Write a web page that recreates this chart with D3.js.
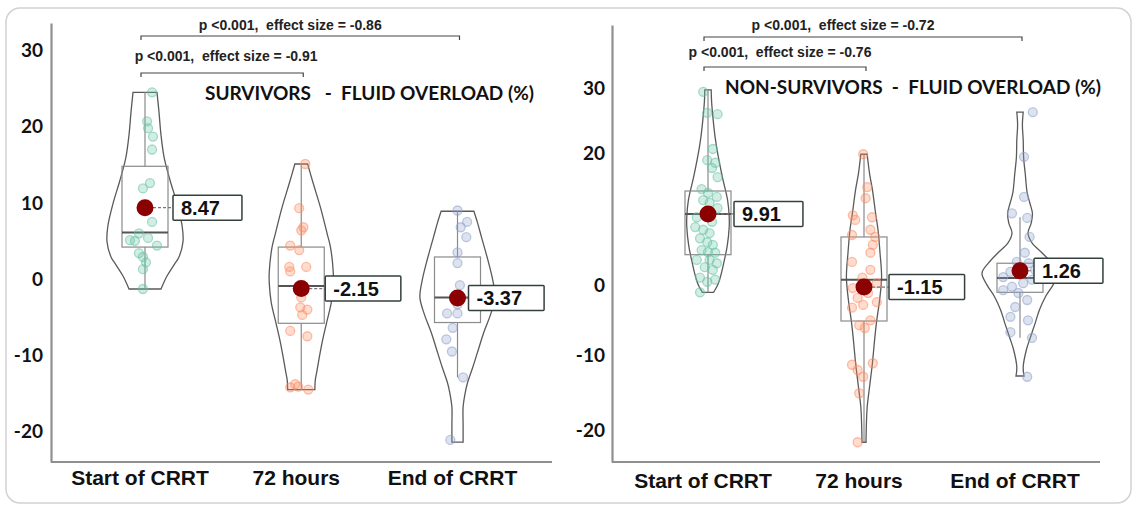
<!DOCTYPE html>
<html>
<head>
<meta charset="utf-8">
<script src="https://cdn.jsdelivr.net/npm/d3@7"></script>
<style>
  body { margin: 0; background: #fff; }
  svg { display: block; }
</style>
</head>
<body>
<script>
// ---- data ----
const categories = ["Start of CRRT", "72 hours", "End of CRRT"];

const survivorsTitle = "SURVIVORS   -  FLUID OVERLOAD (%)";
const nonSurvivorsTitle = "NON-SURVIVORS  -  FLUID OVERLOAD (%)";

const survivorsTicks = [-20, -10, 0, 10, 20, 30];
const nonSurvivorsTicks = [-20, -10, 0, 20, 30];

// means shown in the labelled red dots
const survivorsMeans = [8.47, -2.15, -3.37];
const nonSurvivorsMeans = [9.91, -1.15, 1.26];

// box plot: [low whisker, q1, median, q3, high whisker]
const survivorsBox = [
  [-2.2, 3.3, 5.2, 13.9, 23.6],
  [-15.4, -6.7, -1.8, 3.3, 14.2],
  [-13.8, -6.6, -3.3, 2.0, 8.0]
];
const nonSurvivorsBox = [
  [-1.9, 3.7, 9.9, 13.4, 28.8],
  [-22.4, -6.0, -0.1, 6.4, 19.0],
  [-8.4, -1.9, 0.15, 2.4, 9.4]
];

// violin outlines: [value, relative density]
const survivorsViolin = [
  [[23.6,.30],[21,.35],[18,.40],[15,.48],[12,.63],[9,.80],[6,.93],[4,.95],[2,.85],[1,.73],[-0.5,.55],[-2.2,.40]],
  [[14.2,.16],[12,.28],[8.5,.48],[5,.65],[3.3,.73],[0,.80],[-1.4,.80],[-4,.75],[-6.7,.63],[-9,.53],[-11.2,.45],[-13,.39],[-14.2,.35],[-15.4,.34]],
  [[8,.41],[6.5,.50],[4.6,.60],[1.2,.78],[-1,.88],[-3.3,.94],[-5.5,.83],[-8,.65],[-10,.53],[-12.5,.38],[-14.5,.25],[-15.9,.19],[-17.7,.14],[-20,.14],[-22.3,.14]]
];
const nonSurvivorsViolin = [
  [[28.8,.08],[27,.09],[24.2,.13],[21.5,.18],[19.2,.24],[15.5,.36],[12,.49],[9.5,.53],[7.9,.53],[5,.48],[2.9,.41],[1,.34],[-0.1,.29],[-1,.23],[-1.9,.14]],
  [[19,.08],[16,.14],[13.6,.21],[10,.29],[7.5,.35],[4,.40],[0.3,.44],[-3,.39],[-6.3,.31],[-9,.26],[-11.9,.21],[-15,.14],[-17.7,.08],[-20,.06],[-22.4,.05]],
  [[25.4,.08],[23.5,.06],[21.2,.08],[18.5,.09],[16.1,.13],[13.1,.18],[11.5,.25],[10,.31],[8.5,.28],[7,.20],[5.5,.30],[4,.55],[2.5,.78],[0.9,.95],[-0.8,.83],[-2.6,.63],[-4.5,.48],[-6.3,.38],[-8.5,.25],[-10.1,.16],[-12.4,.08],[-13.6,.10]]
];

// individual patients: [value, jitter (-1..1)]
const survivorsPoints = [
  [[23.6,.44],[19.8,.13],[18.9,.19],[17.8,.5],[16.1,.44],[11.7,.31],[11.0,-.13],[6.6,.44],[5.1,-.38],[4.1,-.63],[4.5,.19],[3.5,.75],[2.5,-.38],[2.0,-.13],[0.4,-.13],[-2.2,-.13],[4.2,-.94],[1.3,.06]],
  [[14.2,.25],[8.4,-.13],[5.9,.13],[5.5,0],[3.5,-.69],[2.9,-.13],[0.7,-.75],[0.1,-.69],[0.7,.31],[-2.2,0],[-3.3,0],[-4.6,-.06],[-4.9,.38],[-5.6,.06],[-7.7,-.69],[-8.4,.38],[-15.1,-.69],[-14.7,-.38],[-15.0,-.19],[-15.4,.44]],
  [[8.1,0],[6.6,.6],[5.9,.2],[4.6,.55],[2.6,0],[1.2,0],[-1.7,.15],[-3.4,.15],[-4.2,0],[-5.4,-.65],[-5.4,0],[-7.3,-.3],[-8.8,-.7],[-10.4,-.35],[-13.8,.35],[-22.0,-.45]]
];
const nonSurvivorsPoints = [
  [[28.5,-.3],[25.3,-.05],[25.1,.6],[19.8,.3],[18.1,-.05],[17.7,.45],[16.9,.25],[15.5,.6],[13.7,-.4],[13.1,0],[12.5,.55],[12.0,-.3],[11.6,.1],[10.8,.6],[9.4,-.7],[8.7,.25],[7.9,-.8],[7.5,-.3],[7.0,.1],[6.2,-.5],[5.6,-.05],[5.2,.3],[4.4,-.4],[4.1,0],[4.0,.45],[2.9,-.7],[2.9,.1],[2.4,.55],[1.8,-.2],[1.4,.3],[0.2,-.5],[-0.1,.45],[-0.4,-.05],[-1.9,-.5]],
  [[19.0,-.05],[14.0,.2],[12.3,.1],[9.7,-.7],[9.0,-.55],[9.4,.5],[7.5,.4],[6.4,.7],[6.7,-.75],[5.2,.55],[4.0,.4],[2.6,-.75],[1.4,.4],[0.2,-.1],[-0.6,.8],[-1.3,-.7],[-2.0,.25],[-2.7,-.4],[-3.7,-.05],[-4.1,-.75],[-3.3,.8],[-5.9,.4],[-6.6,-.3],[-7.0,.05],[-12.1,-.75],[-11.9,.55],[-12.8,-.4],[-13.7,-.05],[-15.9,-.3],[-22.4,-.4]],
  [[25.4,.8],[18.6,.25],[12.5,.25],[10.0,-.5],[9.3,.45],[6.4,.6],[4.0,.3],[2.6,-.2],[2.4,.55],[1.1,-.6],[1.4,.95],[0.3,-1.05],[-0.6,.2],[-0.1,.75],[-1.1,-.5],[-1.6,-1.05],[-2.0,-.1],[-3.0,.45],[-4.0,-.3],[-5.4,-.6],[-5.9,.5],[-7.6,-.6],[-8.4,.75],[-13.7,.45]]
];

// pairwise tests: [from category, to category, text]
const survivorsTests = [
  [0, 2, "p <0.001,  effect size = -0.86"],
  [0, 1, "p <0.001,  effect size = -0.91"]
];
const nonSurvivorsTests = [
  [0, 2, "p <0.001,  effect size = -0.72"],
  [0, 1, "p <0.001,  effect size = -0.76"]
];

// ---- styling / layout ----
const pointColors = ["#66c2a5", "#fc8d62", "#8da0cb"];
const W = 1137, H = 507;

const svg = d3.select("body").append("svg")
  .attr("width", W)
  .attr("height", H);

// outer rounded frame
svg.append("rect")
  .attr("x", 6).attr("y", 8)
  .attr("width", 1125).attr("height", 495)
  .attr("rx", 14)
  .attr("fill", "none")
  .attr("stroke", "#d2d2d2")
  .attr("stroke-width", 1.5);

const widthScale = d3.scaleLinear().domain([0, 1]).range([0, 40]);
const jitterScale = d3.scaleLinear().domain([-1, 1]).range([-16, 16]);

function drawPanel(cfg) {
  const x = d3.scalePoint().domain(d3.range(categories.length)).range(cfg.xRange);
  const y = d3.scaleLinear().domain(cfg.yDomain).range(cfg.yRange);
  const g = svg.append("g");

  // y axis (line + labels, no tick marks)
  const yAxis = g.append("g")
    .attr("transform", `translate(${cfg.axisX},0)`)
    .call(d3.axisLeft(y).tickValues(cfg.ticks).tickSize(0).tickPadding(cfg.tickPad).tickFormat(d => String(d)));
  yAxis.select(".domain").attr("stroke", "#8f8f8f").attr("stroke-width", 2.2);
  yAxis.selectAll("text")
    .attr("y", cfg.tickShift)
    .style("font-family", "Lato, 'Open Sans', sans-serif")
    .style("font-weight", "bold")
    .style("font-size", "19px")
    .attr("fill", "#111");

  // x axis line
  g.append("line")
    .attr("x1", cfg.axisX).attr("x2", cfg.axisEnd)
    .attr("y1", y.range()[0]).attr("y2", y.range()[0])
    .attr("stroke", "#8f8f8f").attr("stroke-width", 2.2);

  // category labels
  g.selectAll(".cat").data(categories).join("text")
    .attr("x", (d, i) => x(i) - 5)
    .attr("y", cfg.catY)
    .attr("text-anchor", "middle")
    .style("font-family", "'Liberation Sans', Arial, sans-serif")
    .style("font-weight", "bold")
    .style("font-size", "21px")
    .attr("fill", "#111")
    .text(d => d);

  // title
  g.append("text")
    .attr("x", cfg.titleX).attr("y", cfg.titleY)
    .style("white-space", "pre")
    .style("font-family", "Lato, 'Open Sans', sans-serif")
    .style("font-weight", "bold")
    .style("font-size", "19px")
    .attr("fill", "#111")
    .text(cfg.title);

  // significance brackets
  cfg.tests.forEach((t, k) => {
    const x0 = x(t[0]) - 4, x1 = x(t[1]) + 2, by = cfg.bracketY[k];
    g.append("path")
      .attr("d", `M${x0},${by + 4}V${by}H${x1}V${by + 4}`)
      .attr("fill", "none")
      .attr("stroke", "#444")
      .attr("stroke-width", 1.2);
    g.append("text")
      .attr("x", (x0 + x1) / 2 + cfg.testDx[k])
      .attr("y", cfg.testY[k])
      .attr("text-anchor", "middle")
      .style("white-space", "pre")
      .style("font-family", "'Liberation Sans', Arial, sans-serif")
      .style("font-weight", "bold")
      .style("font-size", "14px")
      .attr("fill", "#222")
      .text(t[2]);
  });

  const area = d3.area()
    .curve(d3.curveCatmullRom)
    .y(d => y(d[0]));

  categories.forEach((c, i) => {
    const cx = x(i);
    const box = cfg.box[i];

    // violin
    g.append("path")
      .datum(cfg.violin[i])
      .attr("d", area.x0(d => cx - widthScale(d[1])).x1(d => cx + widthScale(d[1])))
      .attr("fill", "none")
      .attr("stroke", "#5a5a5a")
      .attr("stroke-width", 1.3);

    // whiskers
    g.append("line")
      .attr("x1", cx).attr("x2", cx)
      .attr("y1", y(box[0])).attr("y2", y(box[1]))
      .attr("stroke", "#8a8a8a").attr("stroke-width", 1.2);
    g.append("line")
      .attr("x1", cx).attr("x2", cx)
      .attr("y1", y(box[3])).attr("y2", y(box[4]))
      .attr("stroke", "#8a8a8a").attr("stroke-width", 1.2);

    // box
    g.append("rect")
      .attr("x", cx - 23).attr("width", 46)
      .attr("y", y(box[3])).attr("height", y(box[1]) - y(box[3]))
      .attr("fill", "none")
      .attr("stroke", "#8a8a8a").attr("stroke-width", 1.2);
    g.append("line")
      .attr("x1", cx - 23).attr("x2", cx + 23)
      .attr("y1", y(box[2])).attr("y2", y(box[2]))
      .attr("stroke", "#555").attr("stroke-width", 2);

    // points
    g.selectAll(null).data(cfg.points[i]).join("circle")
      .attr("cx", d => cx + jitterScale(d[1]))
      .attr("cy", d => y(d[0]))
      .attr("r", 4.5)
      .attr("fill", pointColors[i])
      .attr("fill-opacity", 0.3)
      .attr("stroke", pointColors[i])
      .attr("stroke-opacity", 0.55)
      .attr("stroke-width", 1.3);

    // mean dot + label
    const m = cfg.means[i];
    const my = y(m);
    const lx = cx + cfg.labelDx[i];
    g.append("line")
      .attr("x1", cx + 8).attr("x2", lx)
      .attr("y1", my).attr("y2", my)
      .attr("stroke", "#777").attr("stroke-width", 1.2)
      .attr("stroke-dasharray", "3,2");
    g.append("circle")
      .attr("cx", cx).attr("cy", my).attr("r", 8.5)
      .attr("fill", "#8b0000");

    const lbl = g.append("g");
    const rect = lbl.append("rect")
      .attr("fill", "#fff")
      .attr("stroke", "#33403f")
      .attr("stroke-width", 1.5)
      .attr("rx", 1);
    const txt = lbl.append("text")
      .attr("x", lx + 8)
      .attr("y", my + 7)
      .style("font-family", "'Liberation Sans', Arial, sans-serif")
      .style("font-weight", "bold")
      .style("font-size", "20px")
      .attr("fill", "#111")
      .text(m.toFixed(2));
    const tw = txt.node().getComputedTextLength();
    rect.attr("x", lx).attr("y", my - 12.5)
      .attr("width", tw + 30).attr("height", 25);
  });
}

drawPanel({
  title: survivorsTitle, titleX: 205, titleY: 100,
  xRange: [145, 457.5], axisX: 51, axisEnd: 552,
  yDomain: [-24.9, 32.7], yRange: [462, 23],
  ticks: survivorsTicks, tickPad: 8, tickShift: 7, catY: 485,
  box: survivorsBox, violin: survivorsViolin, points: survivorsPoints, means: survivorsMeans,
  labelDx: [28, 24, 11],
  tests: survivorsTests, bracketY: [36, 73], testY: [30, 61], testDx: [-10, 4]
});

drawPanel({
  title: nonSurvivorsTitle, titleX: 725, titleY: 94,
  xRange: [708, 1020], axisX: 612, axisEnd: 1100,
  yDomain: [-25, -20, -10, 0, 30, 38.7], yRange: [462, 424, 349, 279, 82, 25],
  ticks: nonSurvivorsTicks, tickPad: 7, tickShift: 6, catY: 488,
  box: nonSurvivorsBox, violin: nonSurvivorsViolin, points: nonSurvivorsPoints, means: nonSurvivorsMeans,
  labelDx: [26, 25, 14],
  tests: nonSurvivorsTests, bracketY: [37, 67], testY: [30, 57], testDx: [-20, -5]
});
</script>
</body>
</html>
